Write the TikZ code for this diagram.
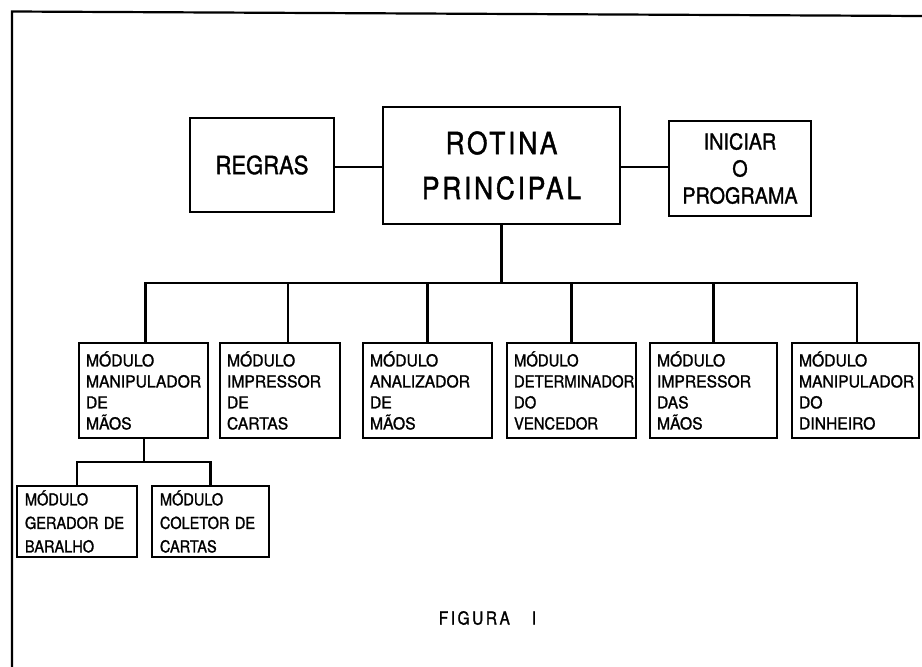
\documentclass[tikz,border=0pt]{standalone}
\usepackage{fontspec}
\setmainfont{TeX Gyre Heros}
\newfontfamily\lettA{TeX Gyre Heros}[FakeStretch=0.9,FakeBold=1.3]
\newfontfamily\lettM{TeX Gyre Heros}[FakeStretch=0.95,FakeBold=1.3]
\newfontfamily\lettB{TeX Gyre Heros}[FakeStretch=0.88,FakeBold=1.3]
\newfontfamily\lettW{TeX Gyre Heros}[FakeStretch=0.86,FakeBold=1.3,LetterSpace=9]
\newfontfamily\lettC{TeX Gyre Heros}[FakeStretch=0.86,FakeBold=1.3,LetterSpace=14]
\begin{document}
\begin{tikzpicture}[x=1pt,y=-1pt]
\useasboundingbox[fill=white] (0,0) rectangle (922,667);
\tikzset{
  topbox/.style={draw=black, line width=2.5pt, inner sep=0pt, align=center},
  modbox/.style={draw=black, line width=2.5pt, inner ysep=0pt, inner xsep=7pt,
    align=left, minimum height=95pt, font={\lettM\fontsize{16.5pt}{21pt}\selectfont}},
  narrowtext/.style={font={\lettA\fontsize{16.5pt}{21pt}\selectfont}},
  subbox/.style={draw=black, line width=2.5pt, inner ysep=0pt, inner xsep=8pt,
    align=left, minimum height=71pt, font={\lettB\fontsize{16.5pt}{23.5pt}\selectfont}},
  conn/.style={line width=2.8pt, line join=miter},
  frame/.style={line width=2.2pt}
}
% outer frame
\draw[frame] (12,667) -- (12,11.5) -- (922,16);

% top row
\node[topbox, minimum width=144pt, minimum height=94pt,
  font={\lettB\fontsize{25pt}{30pt}\selectfont}] (regras) at (262,165) {REGRAS};
\node[topbox, minimum width=237pt, minimum height=117pt,
  font={\lettW\fontsize{30.7pt}{45pt}\selectfont}] (rotina) at (501.5,165.5) {ROTINA\\PRINCIPAL};
\node[topbox, minimum width=142pt, minimum height=95pt,
  font={\lettA\fontsize{22pt}{27pt}\selectfont}] (iniciar) at (740,168.5) {INICIAR\\O\\PROGRAMA};

% module row
\node[modbox, minimum width=129pt, text width=115pt] (m1) at (143.5,390.5) {MÓDULO\\MANIPULADOR\\DE\\MÃOS};
\node[modbox, minimum width=120pt, text width=106pt] (m2) at (280,390.5) {MÓDULO\\IMPRESSOR\\DE\\CARTAS};
\node[modbox, minimum width=129pt, text width=115pt] (m3) at (427.5,390.5) {MÓDULO\\ANALIZADOR\\DE\\MÃOS};
\node[modbox, narrowtext, minimum width=129pt, text width=115pt] (m4) at (571.5,390.5) {MÓDULO\\DETERMINADOR\\DO\\VENCEDOR};
\node[modbox, minimum width=127pt, text width=113pt] (m5) at (713.5,390.5) {MÓDULO\\IMPRESSOR\\DAS\\MÃOS};
\node[modbox, minimum width=127pt, text width=113pt] (m6) at (855.5,390.5) {MÓDULO\\MANIPULADOR\\DO\\DINHEIRO};

% sub row
\node[subbox, minimum width=120pt, text width=104pt] (sa) at (77,521.5) {MÓDULO\\GERADOR DE\\BARALHO};
\node[subbox, minimum width=117pt, text width=101pt] (sb) at (210.5,521.5) {MÓDULO\\COLETOR DE\\CARTAS};

% caption
\node[font={\lettC\fontsize{18pt}{22pt}\selectfont}, inner sep=0pt] (cap) at (487.5,618) {FIGURA\hspace{22pt}I};

% connectors
\coordinate (bus) at (0,283);
\coordinate (subbus) at (0,462);
\draw[conn] (regras.east |- 0,167) -- (rotina.west |- 0,167);
\draw[conn] (rotina.east |- 0,167) -- (iniciar.west |- 0,167);
\draw[conn] (rotina.south) -- (rotina.south |- bus);
\draw[conn] ([xshift=2pt]m1.north) |- ([xshift=1.5pt]m6.north |- bus) -- ([xshift=1.5pt]m6.north);
\draw[conn] ([xshift=8pt]m2.north |- bus) -- ([xshift=8pt]m2.north);
\draw[conn] (m3.north |- bus) -- (m3.north);
\draw[conn] (m4.north |- bus) -- (m4.north);
\draw[conn] (m5.north |- bus) -- (m5.north);
\draw[conn] ([xshift=0.5pt]m1.south) -- ([xshift=0.5pt]m1.south |- subbus);
\draw[conn] (sa.north) |- (sb.north |- subbus) -- (sb.north);
\end{tikzpicture}
\end{document}
